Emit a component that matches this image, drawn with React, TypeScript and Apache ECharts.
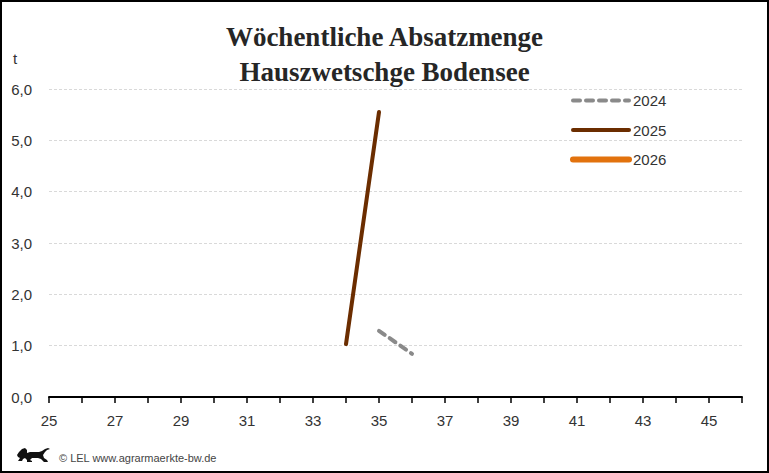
import React, { useEffect, useRef } from "react";
import * as echarts from "echarts";

const titleLines = ["Wöchentliche Absatzmenge", "Hauszwetschge Bodensee"];
const yearNames = ["2024", "2025", "2026"];
const weeks2024 = [35, 36];
const values2024 = [1.29, 0.84];
const weeks2025 = [34, 35];
const values2025 = [1.03, 5.55];
const weeks2026: number[] = [];
const values2026: number[] = [];
const xMin = 25;
const xMax = 46;
const yMin = 0;
const yMax = 6;
const unitLabel = "t";
const footerText = "© LEL www.agrarmaerkte-bw.de";

const lionPath =
  "M0 7 L2 4 L5 1 L8 0 L10 2 L10 5 L13 4 L22 4 L25 3 L28 1 L31 0 L33 1 L30 2 L28 4 L26 7 L27 10 L30 12 L31 14 L27 14 L24 11 L21 10 L15 10 L13 12 L15 13 L15 14 L10 14 L10 12 L8 10 L6 11 L5 13 L1 13 L3 10 L1 9 Z";
echarts.graphic.registerShape("lion", (echarts.graphic as any).extendPath(lionPath, {}));

const zip = (xs: number[], ys: number[]) => xs.map((x, i) => [x, ys[i]]);

const colors = ["#8a8a8a", "#6b2d00", "#e2720d"];
const widths = [4, 4, 6];
const dashes: any[] = [[7, 6], "solid", "solid"];

export default function App() {
  const ref = useRef<HTMLDivElement>(null);
  useEffect(() => {
    if (!ref.current) return;
    const chart = echarts.init(ref.current, undefined, { renderer: "svg" });
    const sans = "'Liberation Sans', Arial, sans-serif";
    const seriesData = [zip(weeks2024, values2024), zip(weeks2025, values2025), zip(weeks2026, values2026)];
    chart.setOption({
      animation: false,
      backgroundColor: "#fff",
      title: {
        text: titleLines.join("\n"),
        left: "center",
        top: 14,
        textStyle: {
          fontFamily: "'Liberation Serif', 'DejaVu Serif', serif",
          fontWeight: "bold",
          fontSize: 27,
          lineHeight: 35,
          color: "#262626",
        },
      },
      legend: {
        orient: "vertical",
        left: 565,
        top: 88,
        itemWidth: 56,
        itemHeight: 14,
        itemGap: 14.5,
        textStyle: { fontFamily: sans, fontSize: 15, color: "#333", padding: [0, 0, 0, -1] },
        itemStyle: { opacity: 0 },
        data: yearNames.map((n, i) => ({
          name: n,
          itemStyle: { opacity: 0 },
          lineStyle: { width: widths[i], type: dashes[i], color: colors[i], cap: "round" },
        })),
      },
      grid: { left: 49, right: 27, top: 89, bottom: 76 },
      xAxis: {
        type: "value",
        min: xMin,
        max: xMax,
        interval: 1,
        axisLine: { lineStyle: { color: "#000", width: 2 } },
        axisTick: { show: true, length: 6, lineStyle: { color: "#000", width: 1.5 } },
        splitLine: { show: false },
        axisLabel: {
          margin: 16,
          fontFamily: sans,
          fontSize: 15,
          color: "#333",
          formatter: (v: number) => (v % 2 === 1 ? String(v) : ""),
        },
      },
      yAxis: {
        type: "value",
        min: yMin,
        max: yMax,
        interval: 1,
        axisLine: { show: false },
        axisTick: { show: false },
        splitLine: { lineStyle: { color: "#d9d9d9", type: [3, 2], width: 1 } },
        axisLabel: {
          margin: 17,
          fontFamily: sans,
          fontSize: 15,
          color: "#333",
          formatter: (v: number) => v.toFixed(1).replace(".", ","),
        },
      },
      series: yearNames.map((n, i) => ({
        name: n,
        type: "line",
        data: seriesData[i],
        symbol: "none",
        color: colors[i],
        lineStyle: { color: colors[i], width: widths[i], type: dashes[i], cap: "round" },
      })),
      graphic: [
        {
          type: "rect",
          shape: { x: 1, y: 1, width: 767, height: 471 },
          style: { fill: "none", stroke: "#000", lineWidth: 2 },
          silent: true,
        },
        {
          type: "text",
          x: 15,
          y: 58,
          style: { text: unitLabel, font: "15px 'Liberation Sans', Arial, sans-serif", fill: "#333", align: "center", verticalAlign: "middle" },
        },
        {
          type: "lion",
          x: 17,
          y: 448,
          scaleX: 1,
          scaleY: 1,
          style: { fill: "#111" },
        },
        {
          type: "text",
          x: 59,
          y: 458,
          style: { text: footerText, font: "11px 'Liberation Sans', Arial, sans-serif", fill: "#444", verticalAlign: "middle" },
        },
      ],
    });
    return () => chart.dispose();
  }, []);
  return (
    <div
      ref={ref}
      style={{ position: "fixed", left: 0, top: 0, width: 769, height: 473 }}
    />
  );
}
